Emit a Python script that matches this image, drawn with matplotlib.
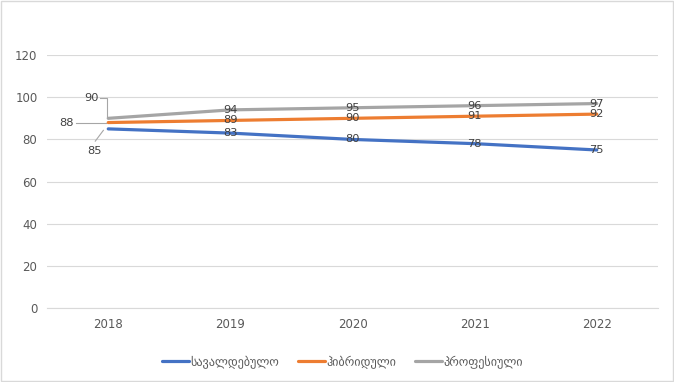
import numpy as np
import matplotlib
matplotlib.use('Agg')
import matplotlib.pyplot as plt

years = ['2018', '2019', '2020', '2021', '2022']
centralized = [85, 83, 80, 78, 75]
hybrid = [88, 89, 90, 91, 92]
professional = [90, 94, 95, 96, 97]
series_names = ['სავალდებულო', 'ჰიბრიდული', 'პროფესიული']
colors = ['#4472C4', '#ED7D31', '#A5A5A5']

plt.rcParams['font.family'] = ['DejaVu Sans']
txt = '#595959'
lbl = '#404040'

fig = plt.figure(figsize=(6.74, 3.82), dpi=100)
ax = fig.add_axes([0.07, 0.193, 0.906, 0.663])

x = np.arange(len(years))
all_series = [centralized, hybrid, professional]
for vals, name, c in zip(all_series, series_names, colors):
    ax.plot(x, vals, color=c, lw=2.3, label=name, solid_capstyle='round', zorder=3)

# data labels centered on the points (first ones pulled out with leader lines)
for vals in all_series:
    for i in range(1, len(x)):
        ax.text(x[i], vals[i], str(vals[i]), ha='center', va='center',
                fontsize=8.2, color=lbl, zorder=4)

lc = '#A6A6A6'
# 90 - up left
ax.text(-0.14, 99.6, str(professional[0]), ha='center', va='center', fontsize=8.2, color=lbl)
ax.plot([-0.065, -0.01, -0.01], [99.6, 99.6, professional[0] + 0.6], color=lc, lw=0.8)
# 88 - left
ax.text(-0.34, 88, str(hybrid[0]), ha='center', va='center', fontsize=8.2, color=lbl)
ax.plot([-0.26, -0.02], [88, 88], color=lc, lw=0.8)
# 85 - below left
ax.text(-0.115, 74.5, str(centralized[0]), ha='center', va='center', fontsize=8.2, color=lbl)
ax.plot([-0.106, -0.04], [79.2, 84.3], color=lc, lw=0.8)

ax.set_xlim(-0.5, 4.5)
ax.set_ylim(0, 120)
ax.set_yticks(range(0, 121, 20))
ax.set_xticks(x)
ax.set_xticklabels(years)
ax.grid(axis='y', color='#D9D9D9', lw=0.8)
ax.set_axisbelow(True)
for s in ['top', 'right', 'left']:
    ax.spines[s].set_visible(False)
ax.spines['bottom'].set_color('#D9D9D9')
ax.tick_params(length=0, labelsize=8.5, colors=txt, pad=7)

leg = fig.legend(loc='center', bbox_to_anchor=(0.508, 0.052), ncol=3, frameon=False,
                 fontsize=8.7, handlelength=2.3, columnspacing=1.5, handletextpad=0.1)
for t in leg.get_texts():
    t.set_color(txt)

# outer frame
fig.patches.append(plt.Rectangle((0.002, 0.003), 0.996, 0.994, transform=fig.transFigure,
                                 fill=False, edgecolor='#D9D9D9', lw=1))

fig.savefig('out.png', dpi=100)
